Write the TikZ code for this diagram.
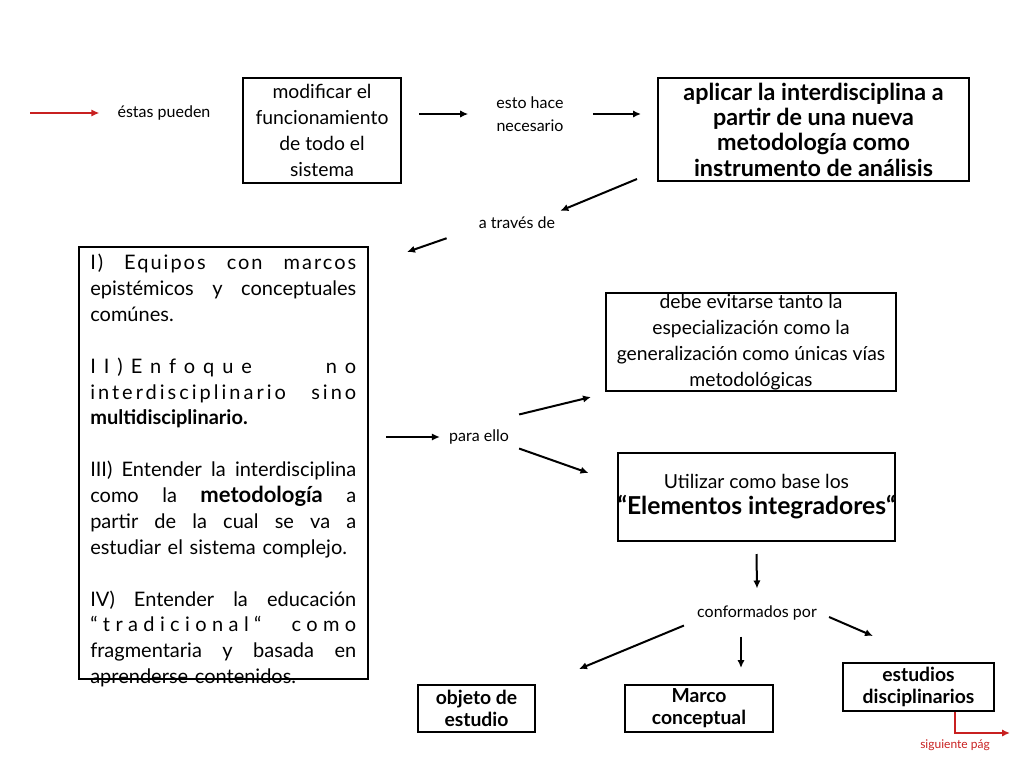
\documentclass[tikz,border=0pt]{standalone}
\usepackage{fontspec}
\setmainfont{Lato}
\usetikzlibrary{arrows.meta,positioning}
\definecolor{nextred}{RGB}{200,32,32}
\newcommand\jline[1]{\makebox[199.5pt][s]{\spaceskip=0.3em plus 1fil\xspaceskip=0.3em plus 1fil #1}}
\newcommand\tracked[2]{\makebox[199.5pt][s]{\addfontfeature{LetterSpace=#1}\spaceskip=0.3em plus 1fil\xspaceskip=0.3em plus 1fil #2}}
\tikzset{
  box/.style      = {shape=rectangle, draw, line width=1.5pt, inner sep=0pt,
                     align=center, font=\fontsize{14.5}{19.5}\selectfont},
  boldbox/.style  = {box, font=\fontsize{17.5}{19}\selectfont\bfseries},
  smallbox/.style = {box, font=\fontsize{14.5}{16.5}\selectfont\bfseries},
  link/.style     = {inner sep=0pt, align=center, font=\fontsize{12}{17}\selectfont},
  arr/.style      = {draw, line width=1.5pt, -{Latex[length=6pt,width=5.5pt]}},
  redarr/.style   = {arr, nextred}
}

\begin{document}
\begin{tikzpicture}[x=0.75pt, y=-0.75pt]
\useasboundingbox (0,0) rectangle (1024,768);

  % first row
  \coordinate (start) at (30,113);
  \node [link] (pueden) at (164,113) {éstas pueden};
  \node [box, minimum width=118.5pt, minimum height=78.75pt] (modificar) at (322,130.5)
    {modificar el\\funcionamiento\\de todo el\\sistema};
  \node [link] (hace) at (530,114) {esto hace\\necesario};
  \node [boldbox, minimum width=233.25pt, minimum height=77.25pt] (aplicar) at (813.5,129.5)
    {aplicar la interdisciplina a\\partir de una nueva\\metodología como\\instrumento de análisis};
  \node [link] (traves) at (517,223) {a través de};

  % left column
  \node [box, minimum width=216.75pt, minimum height=324pt] (ejes) at (223.5,463) {};
  \node [inner sep=0pt, anchor=north west, text width=199.5pt, align=left,
         font=\fontsize{15}{19.4}\selectfont] (puntos) at (90,254)
    {\tracked{10}{I) Equipos con marcos}\\
     \jline{epistémicos y conceptuales}\\
     comúnes.\\[19.4pt]
     \tracked{40}{II)Enfoque no}\\
     \tracked{15}{interdisciplinario sino}\\
     \textbf{multidisciplinario.}\\[19.4pt]
     \jline{III) Entender la interdisciplina}\\
     \jline{como la \textbf{\fontsize{16.5}{19.4}\selectfont metodología} a}\\
     \jline{partir de la cual se va a}\\
     estudiar el sistema complejo.\\[19.4pt]
     \jline{IV) Entender la educación}\\
     \tracked{27}{“tradicional“ como}\\
     \jline{fragmentaria y basada en}\\
     aprenderse contenidos.};

  % right column
  \node [link] (ello) at (479,437) {para ello};
  \node [box, minimum width=217.5pt, minimum height=73.5pt] (evitar) at (751,342)
    {debe evitarse tanto la\\especialización como la\\generalización como únicas vías\\metodológicas};
  \node [box, minimum width=204.75pt, minimum height=66pt] (base) at (756.5,497)
    {Utilizar como base los\\{\fontsize{18.5}{19}\selectfont\bfseries “Elementos integradores“}};
  \node [link] (conf) at (757,613) {conformados por};
  \node [smallbox, minimum width=87.75pt, minimum height=35.25pt] (objeto) at (476.5,708.5)
    {objeto de\\estudio};
  \node [smallbox, minimum width=111pt, minimum height=35.25pt] (marco) at (699,708.5)
    {Marco\\conceptual};
  \node [smallbox, minimum width=113.25pt, minimum height=36pt] (estudios) at (918.5,687)
    {estudios\\disciplinarios};
  \coordinate (sigpag) at (1010,733);
  \node [inner sep=0pt, text=nextred, font=\fontsize{9}{10}\selectfont] (siguiente) at (955,745)
    {siguiente pág};

  % connectors
  \draw [redarr] (start) -- ([xshift=-13.5pt]pueden.west);
  \draw [arr] ([xshift=12.75pt]modificar.east |- hace.west) -- ([xshift=-21pt]hace.west);
  \draw [arr] ([xshift=21.75pt]hace.east) -- ([xshift=-12pt]aplicar.west |- hace.east);
  \draw [arr] ([xshift=-15pt,yshift=2.25pt]aplicar.south west) -- ([xshift=3.75pt,yshift=4.5pt]traves.north east);
  \draw [arr] ([xshift=-24pt,yshift=-6.75pt]traves.south west) -- ([xshift=28.5pt,yshift=-4.5pt]ejes.north east);
  \draw [arr] ([xshift=12.75pt]ejes.east |- ello.west) -- ([xshift=-6.75pt]ello.west);
  \draw [arr] ([xshift=7.5pt,yshift=11.25pt]ello.north east) -- ([xshift=-10.5pt,yshift=-3.75pt]evitar.south west);
  \draw [arr] ([xshift=7.5pt,yshift=-3pt]ello.south east) -- ([xshift=-21pt,yshift=-15.75pt]base.north west);
  \draw [arr] ([yshift=-9pt]base.south) -- ([yshift=12.75pt]conf.north);
  \draw [arr] ([xshift=-9.75pt,yshift=-3.75pt]conf.south west) -- ([xshift=32.25pt,yshift=11.25pt]objeto.north east);
  \draw [arr] ([xshift=-12pt,yshift=-12pt]conf.south) -- ([xshift=-12pt,yshift=12pt]conf.south |- marco.north);
  \draw [arr] ([xshift=9pt,yshift=-3pt]conf.east) -- ([xshift=23.25pt,yshift=19.5pt]estudios.north west);
  \draw [redarr] ([xshift=27.4pt]estudios.south) |- (sigpag);

\end{tikzpicture}
\end{document}
